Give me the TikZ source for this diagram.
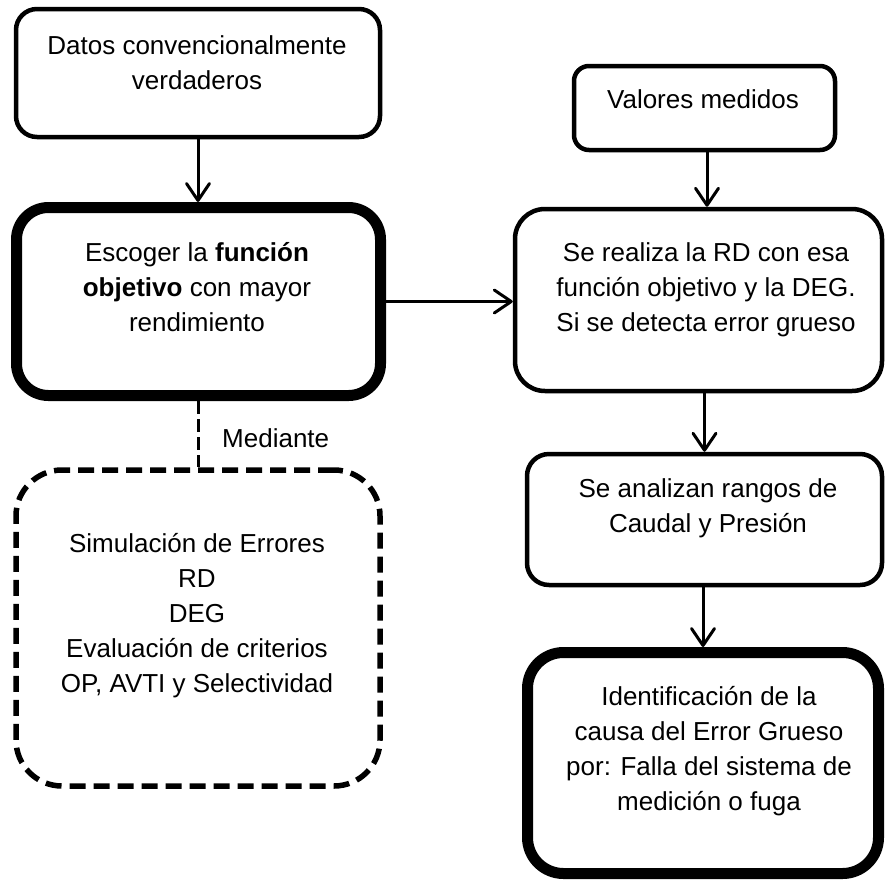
\documentclass[tikz,border=0pt]{standalone}
\usepackage{fontspec}
\setmainfont{Liberation Sans}
\usetikzlibrary{arrows.meta}
\newcommand\firstline{\rule{0pt}{20pt}}
\begin{document}
\begin{tikzpicture}[x=1pt,y=-1pt,
  box/.style={draw, line width=4.5pt, inner sep=0pt},
  heavybox/.style={draw, line width=11pt, inner sep=0pt},
  dashbox/.style={draw, line width=5.5pt, inner sep=0pt, dash pattern=on 16pt off 8pt},
  txt/.style={font=\fontsize{26}{35}\selectfont, align=center, inner sep=0pt},
  arr/.style={line width=3pt, -{Straight Barb[length=17pt, width=23pt, line width=3pt, round]}},
  link/.style={line width=3.5pt, dash pattern=on 13pt off 5pt}
]
\useasboundingbox[fill=white] (0,0) rectangle (886,879);

% left column
\node[box, minimum width=364pt, minimum height=128pt, rounded corners=21pt] (datos) at (198,73) {};
\node[txt, anchor=north] (datosT) at (197,34) {\firstline Datos convencionalmente\\verdaderos};

\node[heavybox, minimum width=364pt, minimum height=188pt, rounded corners=32pt] (escoger) at (198.5,301.5) {};
\node[txt, anchor=north] (escogerT) at (197,241) {\firstline Escoger la \textbf{función}\\\textbf{objetivo} con mayor\\rendimiento};

\node[dashbox, minimum width=364pt, minimum height=316pt, rounded corners=46pt] (metodo) at (198,628) {};
\node[txt, anchor=north] (metodoT) at (197,532) {\firstline Simulación de Errores\\RD\\DEG\\Evaluación de criterios\\OP, AVTI y Selectividad};

\node[txt, anchor=base west] (mediante) at (222,447) {Mediante};

% right column
\node[box, minimum width=261pt, minimum height=84pt, rounded corners=15pt] (valores) at (704.5,108) {};
\node[txt, anchor=north] (valoresT) at (703,88) {\firstline Valores medidos};

\node[box, minimum width=367pt, minimum height=182pt, rounded corners=30pt] (rd) at (698.5,300) {};
\node[txt, anchor=north] (rdT) at (706,241) {\firstline Se realiza la RD con esa\\función objetivo y la DEG.\\Si se detecta error grueso};

\node[box, minimum width=355pt, minimum height=131pt, rounded corners=22pt] (rangos) at (704.5,519.5) {};
\node[txt, anchor=north] (rangosT) at (708,477) {\firstline Se analizan rangos de\\Caudal y Presión};

\node[heavybox, minimum width=351pt, minimum height=221pt, rounded corners=36pt] (causa) at (703,763) {};
\node[txt, anchor=north] (causaT) at (709,685) {\firstline Identificación de la\\causa del Error Grueso\\por: Falla del sistema de\\medición o fuga};

% connectors
\draw[arr] (datos.south) -- (datos.south |- escoger.north);
\draw[link] (escoger.south) -- (escoger.south |- metodo.north);
\draw[arr] (escoger.east) -- (escoger.east -| rd.west);
\draw[arr] ([xshift=2.5pt]valores.south) -- ([xshift=2.5pt]valores.south |- rd.north);
\draw[arr] (rangos.north |- rd.south) -- (rangos.north);
\draw[arr] (causa.north |- rangos.south) -- (causa.north);
\end{tikzpicture}
\end{document}
